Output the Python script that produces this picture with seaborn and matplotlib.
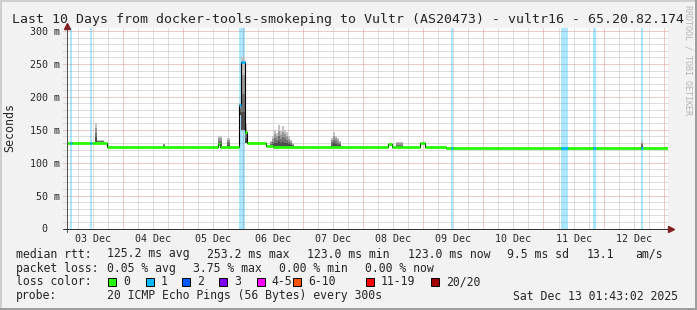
import numpy as np
import pandas as pd
import matplotlib
matplotlib.use("Agg")
import matplotlib.pyplot as plt
import matplotlib.dates as mdates
from matplotlib.patches import Rectangle
import seaborn as sns

sns.set_theme(style="white")
plt.rcParams['font.family'] = ['DejaVu Sans Mono', 'DejaVu Sans']

# ---------------- data ----------------
START = "2025-12-03 01:43:02"
END = "2025-12-13 01:43:02"

median_time = ["2025-12-03 01:43", "2025-12-03 02:55", "2025-12-03 03:45",
               "2025-12-03 10:55", "2025-12-03 11:45", "2025-12-03 17:35",
               "2025-12-05 14:05", "2025-12-05 14:55", "2025-12-05 22:35",
               "2025-12-05 23:10", "2025-12-06 00:50", "2025-12-06 01:30",
               "2025-12-06 09:05", "2025-12-06 11:55", "2025-12-08 10:05",
               "2025-12-08 11:20", "2025-12-08 22:30", "2025-12-09 00:30",
               "2025-12-09 08:55", "2025-12-09 10:55", "2025-12-09 11:45",
               "2025-12-11 06:55", "2025-12-11 09:45", "2025-12-11 19:45",
               "2025-12-11 20:55", "2025-12-12 14:55", "2025-12-12 15:45"]
median_ms = [130, 130, 130, 130, 130, 123.5,
             129, 123.5, 187, 253, 147, 129.5,
             126, 123.5, 129, 123.5, 130.5, 123.5,
             122.5, 122.5, 122.5, 122.5, 122.5, 122.5,
             122.5, 122.5, 122.5]
median_loss = [0, 1, 0, 1, 0, 0,
               0, 0, 1, 1, 0, 0,
               0, 0, 0, 0, 0, 0,
               0, 1, 0, 1, 0, 1,
               0, 1, 0]

smoke_start = ["2025-12-03 12:55", "2025-12-03 13:43", "2025-12-04 16:07",
               "2025-12-05 14:07", "2025-12-05 17:43", "2025-12-05 22:31",
               "2025-12-05 23:19", "2025-12-06 00:43",
               "2025-12-06 10:55", "2025-12-06 11:43", "2025-12-06 12:31",
               "2025-12-06 13:19", "2025-12-06 14:07", "2025-12-06 14:55",
               "2025-12-06 15:43", "2025-12-06 16:31", "2025-12-06 17:19",
               "2025-12-06 18:07", "2025-12-06 18:55", "2025-12-06 19:43",
               "2025-12-07 11:19", "2025-12-07 12:07", "2025-12-07 12:55",
               "2025-12-07 13:43", "2025-12-07 14:31",
               "2025-12-08 12:55", "2025-12-12 14:55"]
smoke_end = ["2025-12-03 13:43", "2025-12-03 16:31", "2025-12-04 16:55",
             "2025-12-05 15:43", "2025-12-05 18:55", "2025-12-05 23:19",
             "2025-12-06 00:43", "2025-12-06 01:43",
             "2025-12-06 11:43", "2025-12-06 12:31", "2025-12-06 13:19",
             "2025-12-06 14:07", "2025-12-06 14:55", "2025-12-06 15:43",
             "2025-12-06 16:31", "2025-12-06 17:19", "2025-12-06 18:07",
             "2025-12-06 18:55", "2025-12-06 19:43", "2025-12-06 20:31",
             "2025-12-07 12:07", "2025-12-07 12:55", "2025-12-07 13:43",
             "2025-12-07 14:31", "2025-12-07 15:19",
             "2025-12-08 15:43", "2025-12-12 15:43"]
smoke_lo = [131, 131, 124, 125, 124, 172, 150, 130,
            124, 124, 124, 124, 124, 124, 124, 124, 124, 124, 124, 124,
            124, 124, 124, 124, 124, 124, 123]
smoke_hi = [160, 134, 129, 141, 138, 190, 260, 158,
            133, 140, 150, 145, 157, 148, 155, 150, 146, 140, 135, 130,
            138, 146, 141, 137, 133, 131, 133]

y_ticks = [0, 50, 100, 150, 200, 250, 300]
y_labels = ["  0", " 50 m", "100 m", "150 m", "200 m", "250 m", "300 m"]
day_labels = ["03 Dec", "04 Dec", "05 Dec", "06 Dec", "07 Dec",
              "08 Dec", "09 Dec", "10 Dec", "11 Dec", "12 Dec"]

loss_names = ["0", "1", "2", "3", "4-5", "6-10", "11-19", "20/20"]
loss_colors = ["#26ff00", "#00b8ff", "#0059ff", "#7e00ff",
               "#ff00ff", "#ff5500", "#ff0000", "#a00000"]

title = "Last 10 Days from docker-tools-smokeping to Vultr (AS20473) - vultr16 - 65.20.82.174"

# ---------------- figure ----------------
W, H = 697, 310
fig = plt.figure(figsize=(W / 100, H / 100), dpi=100, facecolor="#f2f2f2")

def fx(x):
    return x / W

def fy(y):
    return 1 - y / H

AX_L, AX_R, AX_T, AX_B = 67, 668, 28.3, 228.5
ax = fig.add_axes([fx(AX_L), fy(AX_B), (AX_R - AX_L) / W, (AX_B - AX_T) / H])
ax.set_facecolor("white")
for s in ax.spines.values():
    s.set_visible(False)

d2n = lambda v: mdates.date2num(pd.to_datetime(v))
x0, x1 = d2n(START), d2n(END)
YMAX = 300 * (AX_B - AX_T) / (AX_B - 31)
ax.set_xlim(x0, x1)
ax.set_ylim(0, YMAX)

# grid
dot = (0, (1, 1))
minor_v = [d2n(t) for t in pd.date_range("2025-12-03 06:00", "2025-12-13 00:00", freq="6h")
           if t.hour != 0 and x0 < d2n(t) < x1]
major_v = [d2n(t) for t in pd.date_range("2025-12-04 00:00", "2025-12-13 00:00", freq="1D")]
ax.vlines(minor_v, 0, YMAX, colors="#bdbdbd", lw=0.72, linestyles=dot, zorder=1)
ax.vlines(major_v, 0, YMAX, colors="#e29494", lw=0.72, linestyles=dot, zorder=1)
xpad = 4 / 60.1
minor_h = [v for v in range(10, 301, 10) if v % 50 != 0]
major_h = [v for v in range(50, 301, 50)]
ax.hlines(minor_h, x0 - xpad, x1, colors="#bdbdbd", lw=0.72, linestyles=dot, zorder=1, clip_on=False)
ax.hlines(major_h, x0 - xpad, x1, colors="#e29494", lw=0.72, linestyles=dot, zorder=1, clip_on=False)

# median arrays
mt = np.array([d2n(t) for t in median_time] + [x1])
mv = np.array(median_ms + [median_ms[-1]])

# loss bands
for i, l in enumerate(median_loss):
    if l > 0:
        ax.axvspan(mt[i], mt[i + 1], color=loss_colors[l], alpha=0.33, lw=0, zorder=2)

# smoke
shades = ["#4e4e4e", "#707070", "#989898", "#c2c2c2"]
for s, e, lo, hi in zip(smoke_start, smoke_end, smoke_lo, smoke_hi):
    xs = [d2n(s), d2n(e)]
    edges = np.linspace(lo, hi, len(shades) + 1)
    for k, c in enumerate(shades):
        ax.fill_between(xs, [edges[k]] * 2, [edges[k + 1]] * 2, color=c, lw=0, zorder=3)

# median line: thin black steps + loss-coloured levels
sns.lineplot(x=mt, y=mv, drawstyle="steps-post", color="black", lw=0.8,
             estimator=None, sort=False, ax=ax, zorder=4)
ax.hlines(median_ms, mt[:-1], mt[1:], colors=[loss_colors[l] for l in median_loss],
          lw=2.0, zorder=5, capstyle="butt")

# axes lines + arrows
ax.plot([x0, x0], [-5.5, YMAX + 1], color="#505050", lw=0.72, clip_on=False, zorder=6)
ax.plot([x0 - xpad, x1 + 2 / 60.1], [0, 0], color="#303030", lw=0.72, clip_on=False, zorder=6)
ax.plot([x0], [YMAX + 3.5], marker="^", color="#7f1f1f", ms=4.5, clip_on=False, zorder=7)
ax.plot([x1 + 3 / 60.1], [0], marker=">", color="#7f1f1f", ms=4.5, clip_on=False, zorder=7)

# ticks
ax.set_yticks(y_ticks)
ax.set_yticklabels(y_labels, fontsize=7.2)
for lbl in ax.get_yticklabels():
    lbl.set_ha("left")
ax.tick_params(axis="y", length=0, pad=(AX_L - 30) * 0.72)
noons = [d2n(t) for t in pd.date_range("2025-12-03 12:00", "2025-12-12 12:00", freq="1D")]
ax.set_xticks(noons)
ax.set_xticklabels(day_labels, fontsize=7.2)
ax.tick_params(axis="x", length=0, pad=3.8)
ax.grid(False)

# texts
fig.text(fx(348), fy(19.3), title, ha="center", va="center", fontsize=9.55)
fig.text(fx(10), fy(128), "Seconds", rotation=90, ha="center", va="center", fontsize=8.4)
fig.text(fx(687.7), fy(60), "RRDTOOL / TOBI OETIKER", rotation=270, ha="center",
         va="center", fontsize=6, color="#b4b4b4")

FS = 8.3
def t(x, y, s):
    fig.text(fx(x), fy(y), s, ha="left", va="center", fontsize=FS)

y1, y2, y3, y4 = 254, 268.3, 281.7, 296
t(16, y1, "median rtt:")
t(107.3, y1, "125.2 ms avg")
t(207.3, y1, "253.2 ms max")
t(307.3, y1, "123.0 ms min")
t(407.7, y1, "123.0 ms now")
t(506.7, y1, "9.5 ms sd")
t(586.7, y1, "13.1")
t(635, y1, "am/s")

t(16, y2, "packet loss:")
t(107.3, y2, "0.05 % avg")
t(193.3, y2, "3.75 % max")
t(279.3, y2, "0.00 % min")
t(365, y2, "0.00 % now")

t(16, y3, "loss color:")
sq_x = [108.3, 145.7, 182.3, 219, 256.7, 293.3, 366, 430.7]
for xq, name, col in zip(sq_x, loss_names, loss_colors):
    fig.add_artist(Rectangle((fx(xq), fy(285.7)), 8 / W, 8 / H, transform=fig.transFigure,
                             facecolor=col, edgecolor="black", lw=0.7))
    t(xq + 15, y3, name)

t(16, y4, "probe:")
t(107.3, y4, "20 ICMP Echo Pings (56 Bytes) every 300s")
t(513.3, y4, "Sat Dec 13 01:43:02 2025")

# 3D frame
fig.add_artist(Rectangle((0, fy(2)), 1, 2 / H, transform=fig.transFigure, color="#cfcfcf", lw=0))
fig.add_artist(Rectangle((0, 0), 2 / W, 1, transform=fig.transFigure, color="#cfcfcf", lw=0))
fig.add_artist(Rectangle((0, 0), 1, 2 / H, transform=fig.transFigure, color="#9e9e9e", lw=0))
fig.add_artist(Rectangle((fx(695), 0), 2 / W, 1, transform=fig.transFigure, color="#9e9e9e", lw=0))

fig.savefig("out.png", dpi=100, facecolor=fig.get_facecolor())
